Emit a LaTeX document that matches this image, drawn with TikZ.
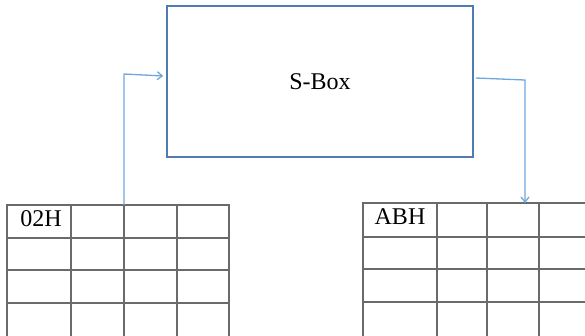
\documentclass[tikz,border=0pt]{standalone}
\usepackage{fontspec}
\setmainfont{Liberation Serif}
\usetikzlibrary{arrows.meta,calc}
\definecolor{gridgray}{HTML}{6A6A6A}
\definecolor{boxblue}{HTML}{4F7DB3}
\definecolor{flowblue}{HTML}{6FA6DC}
\begin{document}
\begin{tikzpicture}[x=1pt,y=-1pt,
  cell/.style={draw=gridgray,line width=1.4pt,anchor=north west,
    inner sep=0pt,outer sep=0pt},
  label/.style={font=\fontsize{24}{28}\selectfont,inner sep=0pt},
  flow/.style={draw=flowblue,line width=1.3pt,
    -{Straight Barb[length=5pt,width=8pt,line width=1.3pt]}}]
\useasboundingbox (0,0) rectangle (585,335);
\clip (0,0) rectangle (585,335);

% S-Box
\node[draw=boxblue,line width=1.5pt,minimum width=306pt,minimum height=151pt,
  inner sep=0pt,label] (sbox) at (320,81.5) {S-Box};

% input state table
\foreach \r/\ya/\yb in {1/205/238,2/238/270,3/270/303,4/303/338}
  \foreach \c/\xa/\xb in {1/7/71,2/71/124,3/124/177,4/177/229}
    \node[cell,minimum width={\xb-\xa},minimum height={\yb-\ya}]
      (L\r\c) at (\xa,\ya) {};
\node[label] (intext) at ($(L11)+(2,-3)$) {02H};

% output state table
\foreach \r/\ya/\yb in {1/203/237,2/237/269,3/269/302,4/302/338}
  \foreach \c/\xa/\xb in {1/363/437,2/437/487,3/487/539,4/539/595}
    \node[cell,minimum width={\xb-\xa},minimum height={\yb-\ya}]
      (R\r\c) at (\xa,\ya) {};
\node[label] (outtext) at ($(R11)+(0,-3)$) {ABH};

% connectors
\coordinate (inbend) at ($(L13.north west)+(0,-131)$);
\coordinate (inend) at ($(sbox.west)+(-3,-5.5)$);
\draw[flow] (L13.north west) -- (inbend) -- (inend);

\coordinate (outstart) at ($(sbox.east)+(2,-3.5)$);
\coordinate (outbend) at (525,80);
\draw[flow] (outstart) -- (outbend) -- (outbend |- R13.north);
\end{tikzpicture}
\end{document}
